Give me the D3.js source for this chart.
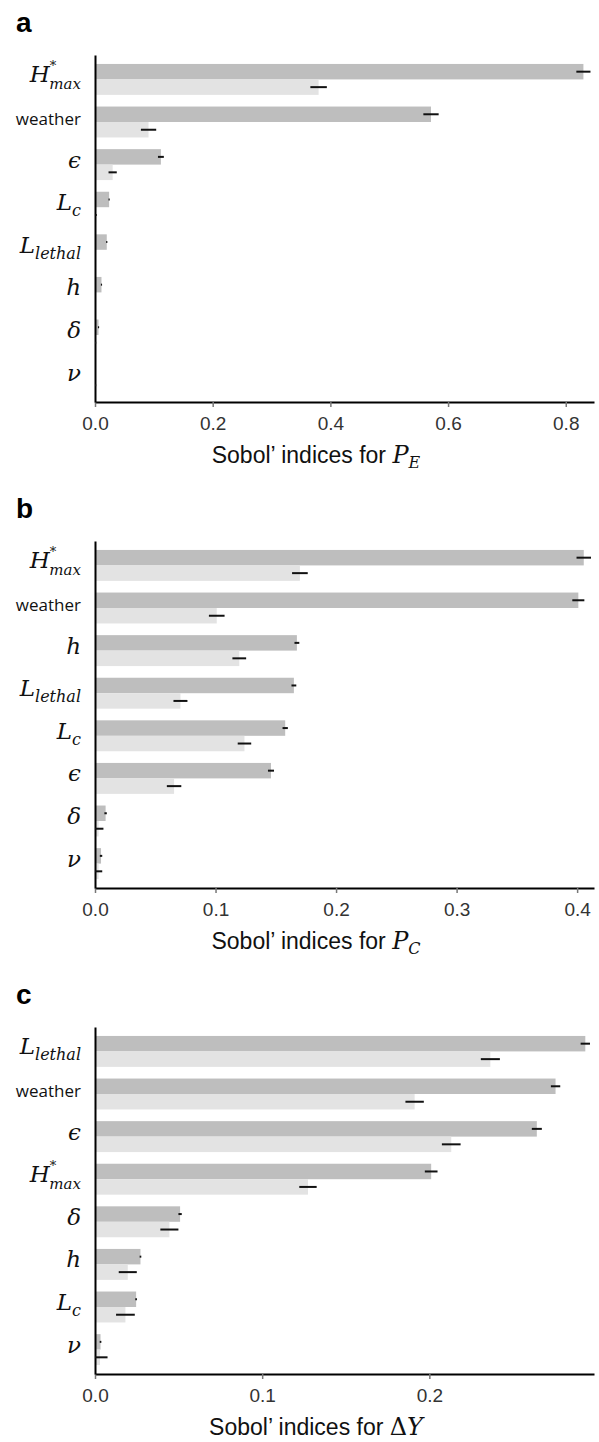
<!DOCTYPE html>
<html>
<head>
<meta charset="utf-8">
<script src="https://cdn.jsdelivr.net/npm/d3@7"></script>
<style>
  body { margin: 0; background: #fff; }
</style>
</head>
<body>
<div id="visualization"></div>
<script>
// panel a - Sobol' indices for P_E
var catsA = ['Hmax', 'weather', 'eps', 'Lc', 'Llethal', 'h', 'delta', 'nu']
var totalA = [0.830, 0.571, 0.112, 0.024, 0.020, 0.011, 0.006, 0.000]
var totalErrA = [0.012, 0.013, 0.005, 0.001, 0.001, 0.001, 0.001, 0]
var firstA = [0.380, 0.091, 0.030, 0.002, 0.000, 0.000, 0.001, 0.001]
var firstErrA = [0.014, 0.013, 0.007, 0.001, 0, 0, 0.001, 0.001]
var ticksA = [0, 0.2, 0.4, 0.6, 0.8]

// panel b - Sobol' indices for P_C
var catsB = ['Hmax', 'weather', 'h', 'Llethal', 'Lc', 'eps', 'delta', 'nu']
var totalB = [0.4055, 0.401, 0.1675, 0.165, 0.1578, 0.146, 0.0088, 0.005]
var totalErrB = [0.006, 0.005, 0.002, 0.002, 0.0022, 0.0025, 0.001, 0.001]
var firstB = [0.170, 0.101, 0.1197, 0.0709, 0.124, 0.0656, 0.003, 0.003]
var firstErrB = [0.0065, 0.0065, 0.0057, 0.0058, 0.0056, 0.006, 0.004, 0.003]
var ticksB = [0, 0.1, 0.2, 0.3, 0.4]

// panel c - Sobol' indices for delta Y
var catsC = ['Llethal', 'weather', 'eps', 'Hmax', 'delta', 'h', 'Lc', 'nu']
var totalC = [0.2933, 0.2755, 0.2643, 0.2011, 0.0509, 0.0272, 0.0246, 0.0033]
var totalErrC = [0.0028, 0.0028, 0.003, 0.0038, 0.001, 0.0005, 0.0005, 0.0005]
var firstC = [0.2365, 0.1912, 0.2131, 0.1274, 0.0445, 0.0196, 0.0182, 0.003]
var firstErrC = [0.0057, 0.0055, 0.0056, 0.0052, 0.0054, 0.0054, 0.0056, 0.0045]
var ticksC = [0, 0.1, 0.2]

// how each parameter name is written (base symbol, sub/superscript)
var labelText = {
    Hmax: { base: 'H', sup: '*', sub: 'max' },
    weather: { plain: 'weather' },
    eps: { base: 'ϵ' },
    Lc: { base: 'L', sub: 'c' },
    Llethal: { base: 'L', sub: 'lethal' },
    h: { base: 'h' },
    delta: { base: 'δ' },
    nu: { base: 'ν' }
}

const width = 599
const height = 1442
const x_left = 95
const x_right = 594
const panel_height = 347
const panel_step = 486
const first_top = 55
const label_x = 81

const serif = '"DejaVu Serif", "Liberation Serif", serif'
const sans = '"Liberation Sans", Arial, sans-serif'
const dark = '#bebebe'
const light = '#e3e3e3'

const svg = d3.select('#visualization')
    .append('svg')
    .attr('width', width)
    .attr('height', height)

// one text element per label, sub/superscripts as tspans
function drawLabel(g, spec) {
    if (spec.plain) {
        g.append('text')
            .attr('text-anchor', 'end')
            .attr('font-family', '"Open Sans", sans-serif')
            .attr('font-size', 17)
            .attr('fill', '#111')
            .text(spec.plain)
        return
    }
    const t = g.append('text')
        .attr('text-anchor', 'end')
        .attr('font-family', serif)
        .attr('font-style', 'italic')
        .attr('font-size', 23)
        .attr('fill', '#111')
    t.append('tspan').text(spec.base)
    if (spec.sup) {
        t.append('tspan')
            .attr('font-style', 'normal')
            .attr('font-size', 13)
            .attr('dy', -12)
            .text(spec.sup)
    }
    if (spec.sub) {
        t.append('tspan')
            .attr('font-size', spec.sup ? 15 : 16)
            .attr('dx', spec.sup ? -7 : 0)
            .attr('dy', spec.sup ? 19 : 6)
            .text(spec.sub)
    }
}

function panel(i, letter, cats, total, totalErr, first, firstErr, domainMax, ticks, sym) {
    const top = first_top + i * panel_step
    const bottom = top + panel_height

    const x = d3.scaleLinear().domain([0, domainMax]).range([x_left, x_right])
    const y = d3.scaleBand().domain(cats).range([top, bottom])
        .paddingInner(0.274).paddingOuter(0.21)
    const sub = d3.scaleBand().domain(['total', 'first']).range([0, y.bandwidth()])

    const rows = cats.map((c, k) => ({
        cat: c, total: total[k], totalErr: totalErr[k], first: first[k], firstErr: firstErr[k]
    }))

    const g = svg.append('g')

    // bars
    rows.forEach(r => {
        g.append('rect')
            .attr('x', x(0))
            .attr('y', y(r.cat) + sub('total'))
            .attr('width', x(r.total) - x(0))
            .attr('height', sub.bandwidth())
            .attr('fill', dark)
        g.append('rect')
            .attr('x', x(0))
            .attr('y', y(r.cat) + sub('first'))
            .attr('width', x(r.first) - x(0))
            .attr('height', sub.bandwidth())
            .attr('fill', light)
    })

    // x axis
    const xa = g.append('g')
        .attr('transform', `translate(0,${bottom})`)
        .call(d3.axisBottom(x).tickValues(ticks).tickFormat(d3.format('.1f')).tickSize(5).tickSizeOuter(0))
    xa.select('.domain').attr('stroke', '#000').attr('stroke-width', 2)
    xa.selectAll('.tick line').attr('stroke', '#777').attr('stroke-width', 1.5)
    xa.selectAll('.tick text')
        .attr('y', 28).attr('dy', 0)
        .attr('font-family', sans)
        .attr('font-size', 19)
        .attr('fill', '#333')

    // y axis line
    const ya = g.append('g')
        .attr('transform', `translate(${x_left},0)`)
        .call(d3.axisLeft(y).tickSize(0).tickFormat(''))
    ya.select('.domain').attr('stroke', '#000').attr('stroke-width', 2)

    // error bars
    rows.forEach(r => {
        [['total', r.total, r.totalErr], ['first', r.first, r.firstErr]].forEach(e => {
            if (e[2] <= 0) return
            const yy = y(r.cat) + sub(e[0]) + sub.bandwidth() / 2
            g.append('line')
                .attr('x1', x(Math.max(0, e[1] - e[2])))
                .attr('x2', x(e[1] + e[2]))
                .attr('y1', yy)
                .attr('y2', yy)
                .attr('stroke', '#111')
                .attr('stroke-width', 2)
        })
    })

    // parameter labels
    rows.forEach(r => {
        const lg = g.append('g')
            .attr('transform', `translate(${label_x},${y(r.cat) + y.bandwidth() / 2 + 3})`)
        drawLabel(lg, labelText[r.cat])
    })

    // panel letter
    g.append('text')
        .attr('x', 16)
        .attr('y', top - 23)
        .attr('font-family', sans)
        .attr('font-weight', 'bold')
        .attr('font-size', 28)
        .text(letter)

    // axis title
    const t = g.append('text')
        .attr('x', 316)
        .attr('y', bottom + 61)
        .attr('text-anchor', 'middle')
        .attr('font-family', sans)
        .attr('font-size', 23)
        .attr('fill', '#111')
    t.append('tspan').text('Sobol’ indices for ')
    if (sym.pre) {
        t.append('tspan').attr('font-family', serif).attr('font-size', 24).text(sym.pre)
    }
    t.append('tspan').attr('font-family', serif).attr('font-style', 'italic').attr('font-size', 24).text(sym.base)
    if (sym.sub) {
        t.append('tspan').attr('font-family', serif).attr('font-style', 'italic').attr('font-size', 16)
            .attr('dy', 5).text(sym.sub)
    }
}

panel(0, 'a', catsA, totalA, totalErrA, firstA, firstErrA, 0.848, ticksA, { base: 'P', sub: 'E' })
panel(1, 'b', catsB, totalB, totalErrB, firstB, firstErrB, 0.414, ticksB, { base: 'P', sub: 'C' })
panel(2, 'c', catsC, totalC, totalErrC, firstC, firstErrC, 0.2985, ticksC, { pre: 'Δ', base: 'Y' })
</script>
</body>
</html>
